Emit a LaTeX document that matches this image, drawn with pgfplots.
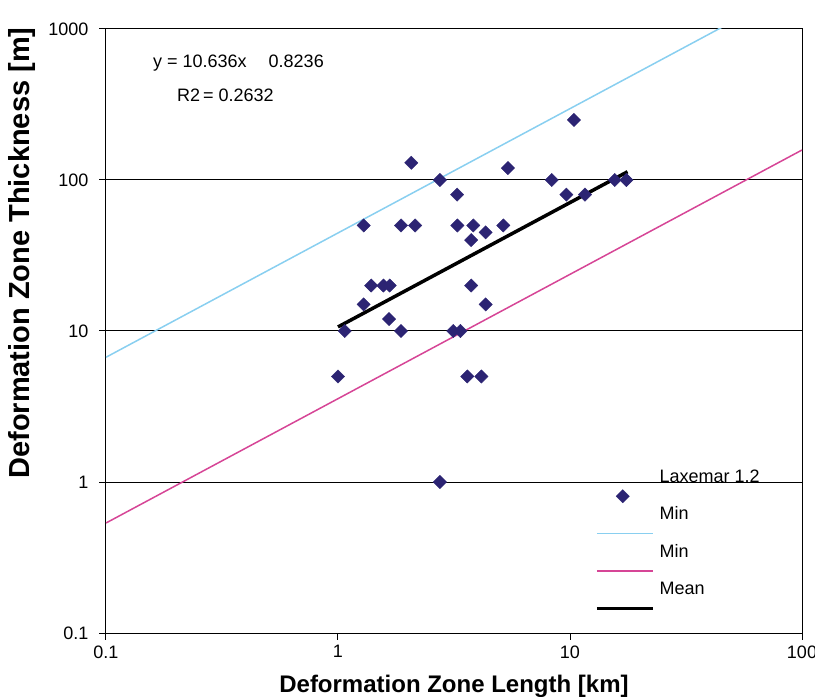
\documentclass[border=0pt]{standalone}
\usepackage{fontspec}
\setmainfont{Liberation Sans}
\usepackage{pgfplots}
\pgfplotsset{compat=1.18}
\definecolor{navy}{RGB}{44,36,115}
\definecolor{skyc}{RGB}{137,207,240}
\definecolor{magc}{RGB}{214,69,150}
\begin{document}
\begin{tikzpicture}
\begin{axis}[
 at={(0pt,0pt)}, anchor=south west,
 scale only axis, width=696pt, height=604pt,
 xmode=log, ymode=log,
 xmin=0.1, xmax=100, ymin=0.1, ymax=1000,
 xtick={0.1,1,10,100}, xticklabels={0.1,1,10,100},
 ytick={0.1,1,10,100,1000}, yticklabels={0.1,1,10,100,1000},
 xminorticks=false, yminorticks=false,
 tick align=outside, tick pos=left, major tick length=7pt,
 every tick/.style={black, line width=1pt},
 axis line style={line width=1pt},
 ymajorgrids, major grid style={black, line width=1pt},
 tick label style={font=\fontsize{18}{20}\selectfont},
 xticklabel style={yshift=-2pt},
 yticklabel style={xshift=-7pt},
 xlabel={Deformation Zone Length [km]},
 ylabel={Deformation Zone Thickness [m]},
 xlabel style={font=\fontsize{24}{26}\selectfont\bfseries, at={(axis description cs:0.5,-0.0877)}, anchor=center},
 ylabel style={font=\fontsize{29}{31}\selectfont\bfseries, at={(axis description cs:-0.1207,0.629)}, anchor=center},
 legend style={draw=none, fill=none, at={(axis description cs:0.7026,0.2707)}, anchor=north west, inner sep=0pt, outer sep=0pt,
   font=\fontsize{18}{20}\selectfont, nodes={inner sep=0pt, text height=13pt, text depth=24.5pt}, /tikz/column sep=5pt},
 legend cell align=left,
 legend image code/.code={\draw[mark repeat=2,mark phase=2,#1] plot coordinates {(0pt,0pt) (26pt,0pt) (56pt,0pt)};},
 legend image post style={yshift=-8pt},
]
\addplot[only marks, mark=square*, mark size=4.7pt, mark options={rotate=45, fill=navy, draw=navy}] coordinates {
(1.0,5) (1.07,10) (1.29,50) (1.29,15) (1.39,20) (1.57,20) (1.67,20) (1.66,12)
(1.87,50) (1.87,10) (2.07,130) (2.15,50) (2.75,100) (2.75,1) (3.14,10) (3.26,80)
(3.27,50) (3.37,10) (3.61,5) (3.75,40) (3.75,20) (3.83,50) (4.15,5) (4.33,45)
(4.33,15) (5.16,50) (5.4,120) (8.34,100) (9.65,80) (10.4,250) (11.6,80) (15.6,100) (17.5,100)
};
\addlegendentry{Laxemar 1.2}
\addplot[skyc, line width=1.5pt] coordinates {(0.1,6.7) (100,1976)};
\addlegendentry{Min}
\addplot[magc, line width=1.5pt] coordinates {(0.1,0.535) (100,158)};
\addlegendentry{Min}
\addplot[black, line width=3.5pt] coordinates {(1.0,10.64) (17.7,113.4)};
\addlegendentry{Mean}
\node[anchor=west, font=\fontsize{18}{20}\selectfont, inner sep=0pt] at (axis description cs:0.0675,0.9437) {y = 10.636x\hspace{22pt}0.8236};
\node[anchor=west, font=\fontsize{18}{20}\selectfont, inner sep=0pt] at (axis description cs:0.102,0.891) {R2{\kern3pt}= 0.2632};
\end{axis}
\pgfresetboundingbox
\useasboundingbox (-106pt,-64pt) rectangle (709pt,633pt);
\end{tikzpicture}
\end{document}
